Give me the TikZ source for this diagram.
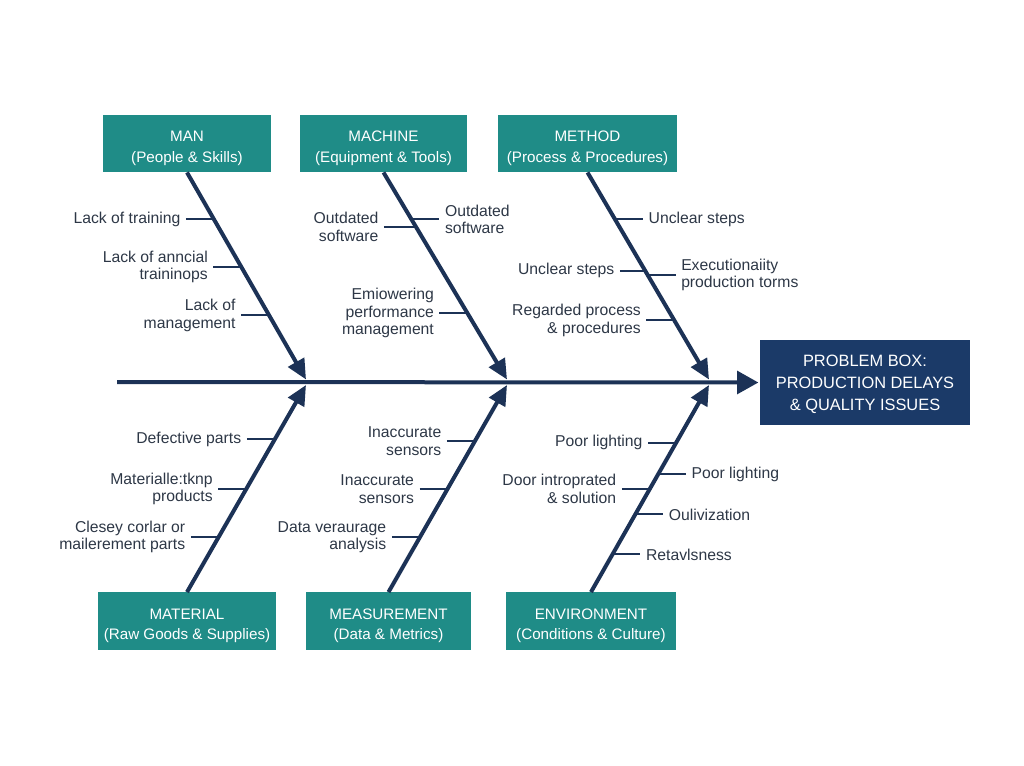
\documentclass[tikz,border=0pt]{standalone}
\usepackage{fontspec}
\setmainfont{Liberation Sans}
\usetikzlibrary{positioning,arrows.meta}

\definecolor{fbteal}{RGB}{31,140,135}
\definecolor{fbnavy}{RGB}{27,58,104}
\definecolor{fbbone}{RGB}{28,50,86}
\definecolor{fbtext}{RGB}{45,55,70}

% strut that pushes box text down a little
\newcommand{\boxstrut}[1]{\rule{0pt}{#1}}

\begin{document}
\begin{tikzpicture}[x=0.75pt,y=0.75pt,yscale=-1,xscale=1,
  node distance=21pt,
  catbox/.style={fill=fbteal, text=white, minimum height=43pt, inner sep=0pt, align=center,
    font=\fontsize{11.4}{15.5}\selectfont},
  probbox/.style={fill=fbnavy, text=white, minimum width=157.5pt, minimum height=63.75pt, inner sep=0pt,
    align=center, font=\fontsize{12.3}{16.5}\selectfont},
  spine/.style={draw=fbbone, line width=3pt, shorten >=1pt, -{Triangle[length=16pt,width=17pt]}},
  bone/.style={draw=fbbone, line width=3pt, -{Triangle[length=15pt,width=13.5pt]}},
  tick/.style={draw=fbbone, line width=1.5pt},
  lcause/.style={text=fbtext, inner xsep=4pt, inner ysep=0pt, align=right,
    font=\fontsize{11.8}{13.2}\selectfont},
  rcause/.style={lcause, align=left}]

\useasboundingbox (0,0) rectangle (1024,765);

% Category boxes
\node[catbox, minimum width=126pt] (man) at (187,143.5) {\boxstrut{15pt}MAN\\(People \& Skills)};
\node[catbox, minimum width=125.25pt] (machine) at (383.5,143.5) {\boxstrut{15pt}MACHINE\\(Equipment \& Tools)};
\node[catbox, minimum width=134.25pt] (method) at (587.5,143.5) {\boxstrut{15pt}METHOD\\(Process \& Procedures)};
\node[catbox, minimum width=133.5pt] (material) at (187,621) {\boxstrut{15pt}MATERIAL\\(Raw Goods \& Supplies)};
\node[catbox, minimum width=123.75pt] (measure) at (388.5,621) {\boxstrut{15pt}MEASUREMENT\\(Data \& Metrics)};
\node[catbox, minimum width=127.5pt] (envir) at (591,621) {\boxstrut{15pt}ENVIRONMENT\\(Conditions \& Culture)};

% Problem box
\node[probbox] (problem) at (865,382.5) {\boxstrut{12pt}PROBLEM BOX:\\PRODUCTION DELAYS\\\& QUALITY ISSUES};

% Spine
\coordinate (tail) at (117,382);
\draw[spine] (tail) -- (problem.west);

% Bone ends on the spine
\coordinate (jmant) at (306,379.5);
\coordinate (jmact) at (507,379.5);
\coordinate (jmett) at (709,379.5);
\coordinate (jmatb) at (306,385);
\coordinate (jmeab) at (507,385);
\coordinate (jenvb) at (709,385);

% Bones
\draw[bone] (man.south) -- (jmant);
\draw[bone] (machine.south) -- (jmact);
\draw[bone] (method.south) -- (jmett);
\draw[bone] (material.north) -- (jmatb);
\draw[bone] (measure.north) -- (jmeab);
\draw[bone] (envir.north) -- (jenvb);

% MAN causes
\path (man.south) -- (jmant) coordinate[pos=.226] (man1) coordinate[pos=.457] (man2) coordinate[pos=.69] (man3);
\node[lcause, left=of man1] (lman1) {Lack of training};
\node[lcause, left=of man2] (lman2) {Lack of anncial\\traininops};
\node[lcause, left=of man3] (lman3) {Lack of\\management};
\draw[tick] (lman1) -- (man1);
\draw[tick] (lman2) -- (man2);
\draw[tick] (lman3) -- (man3);

% MACHINE causes
\path (machine.south) -- (jmact) coordinate[pos=.263] (mac1) coordinate[pos=.226] (mac2) coordinate[pos=.68] (mac3);
\node[lcause, left=24pt of mac1] (lmac1) {Outdated\\software};
\node[rcause, right=of mac2] (rmac2) {Outdated\\software};
\node[lcause, left=of mac3] (lmac3) {Emiowering\\performance\\management};
\draw[tick] (lmac1) -- (mac1);
\draw[tick] (mac2) -- (rmac2);
\draw[tick] (lmac3) -- (mac3);

% METHOD causes
\path (method.south) -- (jmett) coordinate[pos=.227] (met1) coordinate[pos=.475] (met2) coordinate[pos=.495] (met3) coordinate[pos=.715] (met4);
\node[rcause, right=of met1] (rmet1) {Unclear steps};
\node[lcause, left=19pt of met2] (lmet2) {Unclear steps};
\node[rcause, right=of met3] (rmet3) {Executionaiity\\production torms};
\node[lcause, left=of met4] (lmet4) {Regarded process\\\& procedures};
\draw[tick] (met1) -- (rmet1);
\draw[tick] (lmet2) -- (met2);
\draw[tick] (met3) -- (rmet3);
\draw[tick] (lmet4) -- (met4);

% MATERIAL causes
\path (material.north) -- (jmatb) coordinate[pos=.738] (mat1) coordinate[pos=.498] (mat2) coordinate[pos=.267] (mat3);
\node[lcause, left=of mat1] (lmat1) {Defective parts};
\node[lcause, left=of mat2] (lmat2) {Materialle:tknp\\products};
\node[lcause, left=of mat3] (lmat3) {Clesey corlar or\\mailerement parts};
\draw[tick] (lmat1) -- (mat1);
\draw[tick] (lmat2) -- (mat2);
\draw[tick] (lmat3) -- (mat3);

% MEASUREMENT causes
\path (measure.north) -- (jmeab) coordinate[pos=.729] (mea1) coordinate[pos=.498] (mea2) coordinate[pos=.264] (mea3);
\node[lcause, left=of mea1] (lmea1) {Inaccurate\\sensors};
\node[lcause, left=of mea2] (lmea2) {Inaccurate\\sensors};
\node[lcause, left=of mea3] (lmea3) {Data veraurage\\analysis};
\draw[tick] (lmea1) -- (mea1);
\draw[tick] (lmea2) -- (mea2);
\draw[tick] (lmea3) -- (mea3);

% ENVIRONMENT causes
\path (envir.north) -- (jenvb) coordinate[pos=.721] (env1) coordinate[pos=.568] (env2) coordinate[pos=.498] (env3)
  coordinate[pos=.375] (env4) coordinate[pos=.182] (env5);
\node[lcause, left=of env1] (lenv1) {Poor lighting};
\node[rcause, right=of env2] (renv2) {Poor lighting};
\node[lcause, left=of env3] (lenv3) {Door introprated\\\& solution};
\node[rcause, right=of env4] (renv4) {Oulivization};
\node[rcause, right=of env5] (renv5) {Retavlsness};
\draw[tick] (lenv1) -- (env1);
\draw[tick] (env2) -- (renv2);
\draw[tick] (lenv3) -- (env3);
\draw[tick] (env4) -- (renv4);
\draw[tick] (env5) -- (renv5);

\end{tikzpicture}
\end{document}
